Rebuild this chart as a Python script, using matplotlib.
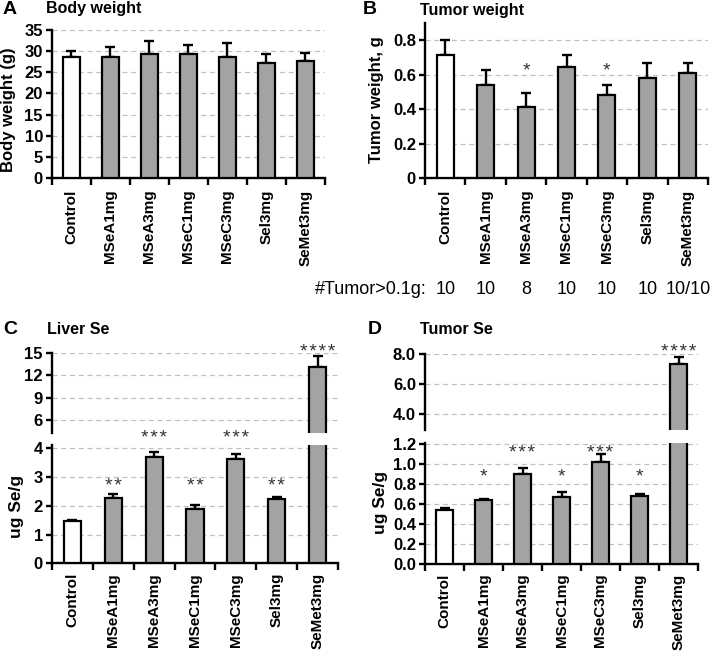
import numpy as np
import matplotlib
matplotlib.use("Agg")
import matplotlib.pyplot as plt
import matplotlib.transforms as mtransforms

plt.rcParams['font.family'] = ['Liberation Sans', 'DejaVu Sans']

categories = ['Control', 'MSeA1mg', 'MSeA3mg', 'MSeC1mg', 'MSeC3mg', 'Sel3mg', 'SeMet3mg']

bw_mean = [28.5, 28.7, 29.3, 29.3, 28.5, 27.1, 27.7]
bw_err = [1.55, 2.2, 3.2, 2.2, 3.5, 2.2, 1.9]

tw_mean = [0.716, 0.54, 0.41, 0.644, 0.484, 0.581, 0.609]
tw_err = [0.084, 0.088, 0.084, 0.072, 0.056, 0.088, 0.06]
tw_stars = ['', '', '*', '', '*', '', '']
tumor_counts = ['10', '10', '8', '10', '10', '10', '10/10']

liver_mean = [1.48, 2.26, 3.69, 1.89, 3.61, 2.23, 13.1]
liver_err = [0.03, 0.14, 0.19, 0.13, 0.20, 0.08, 1.4]
liver_stars = ['', '**', '***', '**', '***', '**', '****']

tse_mean = [0.538, 0.642, 0.906, 0.668, 1.023, 0.678, 7.36]
tse_err = [0.02, 0.01, 0.06, 0.05, 0.083, 0.027, 0.44]
tse_stars = ['', '*', '***', '*', '***', '*', '****']

W, H = 720, 651
fig = plt.figure(figsize=(7.2, 6.51), dpi=100)

GRAY = '#a3a3a3'
GRID = '#c0c0c0'
TICKFS = 12
CATFS = 11
STARFS = 14


def rect(x0, y0, x1, y1):
    # pixel box (top-left origin) -> figure fraction
    return [x0 / W, 1 - y1 / H, (x1 - x0) / W, (y1 - y0) / H]


def fx(x, y):
    return x / W, 1 - y / H


def draw_bars(ax, mean, err):
    x = np.arange(len(mean))
    colors = ['white'] + [GRAY] * (len(mean) - 1)
    ax.errorbar(x, mean, yerr=[np.zeros(len(mean)), err], fmt='none',
                ecolor='black', elinewidth=1.7, capsize=3.5, capthick=1.7, zorder=2)
    ax.bar(x, mean, width=0.42, color=colors, edgecolor='black', linewidth=1.6, zorder=3)
    ax.set_xlim(-0.5, len(mean) - 0.5)


def style_axis(ax, yticks, yfmt, show_x=True, catpad=8.5):
    ax.spines['top'].set_visible(False)
    ax.spines['right'].set_visible(False)
    ax.spines['left'].set_linewidth(1.7)
    ax.set_yticks(yticks)
    ax.set_yticklabels([yfmt.format(v) for v in yticks], fontsize=TICKFS, fontweight='bold')
    ax.tick_params(axis='y', direction='out', length=4, width=1.7, pad=2.5)
    ax.yaxis.grid(True, linestyle=(0, (4, 3)), color=GRID, linewidth=0.9, zorder=0)
    ax.set_axisbelow(True)
    if show_x:
        ax.spines['bottom'].set_linewidth(1.7)
        ax.set_xticks(np.arange(-0.5, len(categories), 1))
        ax.set_xticklabels([])
        ax.tick_params(axis='x', which='major', direction='out', length=5, width=1.7)
        ax.set_xticks(np.arange(len(categories)), minor=True)
        ax.set_xticklabels(categories, minor=True, rotation=90, fontsize=CATFS,
                           fontweight='bold', va='top', ha='center')
        ax.tick_params(axis='x', which='minor', length=0, pad=catpad)
    else:
        ax.spines['bottom'].set_visible(False)
        ax.set_xticks([])


def stars(ax, labels, levels):
    # place asterisk glyph centres at the given level (glyph centre ~0.58 em above baseline)
    tr = mtransforms.offset_copy(ax.transData, fig=fig, y=-0.58 * STARFS, units='points')
    for i, s in enumerate(labels):
        if s:
            ax.text(i, levels[s], '\u200a'.join(s), ha='center', va='baseline',
                    fontsize=STARFS, color='#333333', clip_on=False, zorder=5, transform=tr)


# ---------- A ----------
axA = fig.add_axes(rect(52, 30, 325, 178))
draw_bars(axA, bw_mean, bw_err)
axA.set_ylim(0, 35)
style_axis(axA, [0, 5, 10, 15, 20, 25, 30, 35], '{:g}')

# ---------- B ----------
axB = fig.add_axes(rect(425, 23, 708, 178))
draw_bars(axB, tw_mean, tw_err)
axB.set_ylim(0, 0.9)
style_axis(axB, [0, 0.2, 0.4, 0.6, 0.8], '{:g}')
stars(axB, tw_stars, {'*': 0.66})

# ---------- C ----------
axCu = fig.add_axes(rect(52, 352.7, 338, 433))
axCl = fig.add_axes(rect(52, 445, 338, 563.3))
draw_bars(axCu, liver_mean, liver_err)
draw_bars(axCl, liver_mean, liver_err)
axCu.set_ylim(4.25, 15)
axCl.set_ylim(0, 4.11)
style_axis(axCu, [6, 9, 12, 15], '{:g}', show_x=False)
style_axis(axCl, [0, 1, 2, 3, 4], '{:g}', catpad=7)
stars(axCl, [s if s in ('**', '***') else '' for s in liver_stars], {'**': 2.92, '***': 4.58})
stars(axCu, [s if s == '****' else '' for s in liver_stars], {'****': 15.94})

# ---------- D ----------
axDu = fig.add_axes(rect(425, 354.3, 698, 430))
axDl = fig.add_axes(rect(425, 443.3, 698, 564))
draw_bars(axDu, tse_mean, tse_err)
draw_bars(axDl, tse_mean, tse_err)
axDu.set_ylim(2.95, 8.0)
axDl.set_ylim(0, 1.21)
style_axis(axDu, [4.0, 6.0, 8.0], '{:.1f}', show_x=False)
style_axis(axDl, [0.0, 0.2, 0.4, 0.6, 0.8, 1.0, 1.2], '{:.1f}', catpad=7)
stars(axDl, [s if s in ('*', '***') else '' for s in tse_stars], {'*': 0.943, '***': 1.18})
stars(axDu, [s if s == '****' else '' for s in tse_stars], {'****': 8.57})

# ---------- titles / labels ----------
for (lx, ly, letter, tx, title) in [(3, 9, 'A', 46, 'Body weight'),
                                    (363, 10, 'B', 420, 'Tumor weight'),
                                    (3, 330, 'C', 47, 'Liver Se'),
                                    (368, 330, 'D', 420, 'Tumor Se')]:
    fig.text(*fx(lx, ly), letter, fontsize=14, fontweight='bold', ha='left', va='center')
    fig.text(*fx(tx, ly), title, fontsize=11.5, fontweight='bold', ha='left', va='center')

fig.text(*fx(9, 110), 'Body weight (g)', rotation=90, fontsize=12, fontweight='bold',
         ha='center', va='center')
fig.text(*fx(377, 100), 'Tumor weight, g', rotation=90, fontsize=12, fontweight='bold',
         ha='center', va='center')
fig.text(*fx(17, 506), 'ug Se/g', rotation=90, fontsize=12.5, fontweight='bold',
         ha='center', va='center')
fig.text(*fx(380, 502), 'ug Se/g', rotation=90, fontsize=12.5, fontweight='bold',
         ha='center', va='center')

# tumor counts row
narrow = ['Liberation Sans Narrow', 'Liberation Sans', 'DejaVu Sans']
fig.text(*fx(427, 290), '#Tumor>0.1g:', fontsize=13, family=narrow, ha='right', va='center')
trans = mtransforms.blended_transform_factory(axB.transData, fig.transFigure)
for i, c in enumerate(tumor_counts):
    fig.text(i, 1 - 290 / H, c, transform=trans, fontsize=13, family=narrow,
             ha='center', va='center')

fig.savefig('out.png', dpi=100)
